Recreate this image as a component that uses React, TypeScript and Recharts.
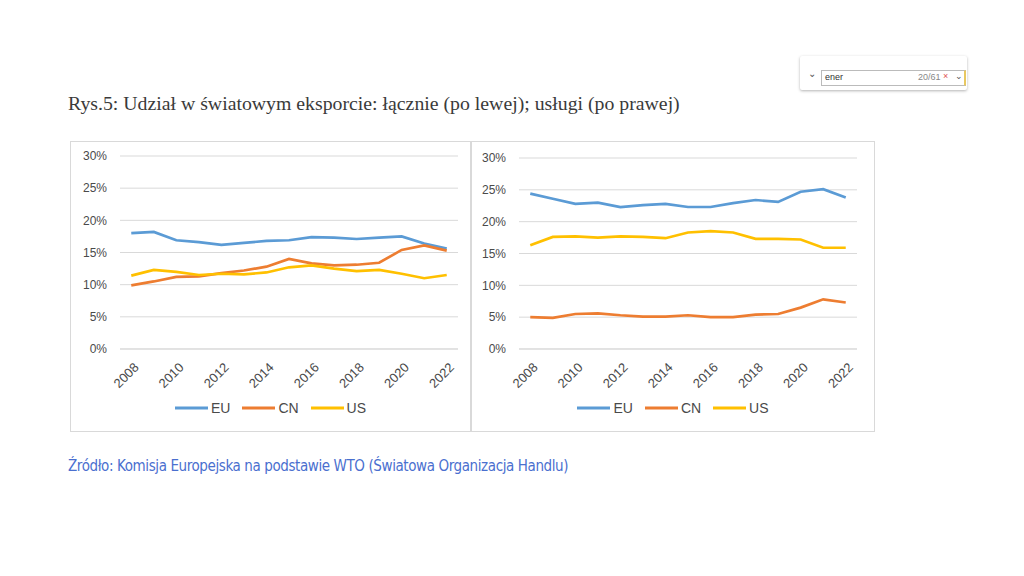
import React from "react";
import { LineChart, Line, XAxis, YAxis, CartesianGrid, Legend } from "recharts";

const years = [2008, 2009, 2010, 2011, 2012, 2013, 2014, 2015, 2016, 2017, 2018, 2019, 2020, 2021, 2022];
const xTicks = [2008, 2010, 2012, 2014, 2016, 2018, 2020, 2022];
const yTicks = [0, 5, 10, 15, 20, 25, 30];

// Left: total exports share (%)
const totalEU = [18.0, 18.2, 16.9, 16.6, 16.2, 16.5, 16.8, 16.9, 17.4, 17.3, 17.1, 17.3, 17.5, 16.4, 15.6];
const totalCN = [9.9, 10.5, 11.2, 11.3, 11.8, 12.2, 12.8, 14.0, 13.3, 13.0, 13.1, 13.4, 15.4, 16.1, 15.3];
const totalUS = [11.4, 12.3, 12.0, 11.5, 11.7, 11.6, 11.9, 12.7, 13.0, 12.5, 12.1, 12.3, 11.7, 11.0, 11.5];

// Right: services exports share (%)
const servEU = [24.4, 23.6, 22.8, 23.0, 22.3, 22.6, 22.8, 22.3, 22.3, 22.9, 23.4, 23.1, 24.7, 25.1, 23.8];
const servCN = [5.0, 4.9, 5.5, 5.6, 5.3, 5.1, 5.1, 5.3, 5.0, 5.0, 5.4, 5.5, 6.5, 7.8, 7.3];
const servUS = [16.3, 17.6, 17.7, 17.5, 17.7, 17.6, 17.4, 18.3, 18.5, 18.3, 17.3, 17.3, 17.2, 15.9, 15.9];

const seriesNames = ["EU", "CN", "US"];
const seriesColors = ["#5b9bd5", "#ed7d31", "#ffc000"];

const title = "Rys.5: Udział w światowym eksporcie: łącznie (po lewej); usługi (po prawej)";
const source = "Źródło: Komisja Europejska na podstawie WTO (Światowa Organizacja Handlu)";

const buildData = (eu: number[], cn: number[], us: number[]) =>
  years.map((y, i) => ({ year: y, EU: eu[i], CN: cn[i], US: us[i] }));

const leftData = buildData(totalEU, totalCN, totalUS);
const rightData = buildData(servEU, servCN, servUS);

const FONT = "'Liberation Sans', Arial, sans-serif";
const TICK_COLOR = "#4a4a4a";

const XTick = (props: any) => {
  const { x, y, payload } = props;
  return (
    <g transform={`translate(${x + 5},${y + 8})`}>
      <text
        transform="rotate(-45)"
        textAnchor="end"
        dy="0.35em"
        fontSize={13}
        fontFamily={FONT}
        fill={TICK_COLOR}
      >
        {payload.value}
      </text>
    </g>
  );
};

const LegendContent = () => (
  <div style={{ display: "flex", justifyContent: "center", alignItems: "center", fontFamily: FONT, fontSize: 14, color: TICK_COLOR }}>
    {seriesNames.map((n, i) => (
      <div key={n} style={{ display: "flex", alignItems: "center", marginRight: i < 2 ? 12 : 0 }}>
        <svg width={33} height={4} style={{ marginRight: 3 }}>
          <line x1={0} y1={2} x2={33} y2={2} stroke={seriesColors[i]} strokeWidth={3} />
        </svg>
        <span>{n}</span>
      </div>
    ))}
  </div>
);

const Panel = ({ data, width, height, margin, yWidth, legendTop }: any) => (
  <LineChart width={width} height={height} data={data} margin={margin}>
    <CartesianGrid vertical={false} stroke="#d9d9d9" />
    <XAxis
      dataKey="year"
      type="number"
      domain={[2007.5, 2022.5]}
      ticks={xTicks}
      interval={0}
      tick={<XTick />}
      tickLine={false}
      axisLine={{ stroke: "#d9d9d9" }}
      height={margin.bottomAxis}
    />
    <YAxis
      domain={[0, 30]}
      ticks={yTicks}
      tickFormatter={(v: number) => `${v}%`}
      tick={{ fontSize: 12, fill: TICK_COLOR, fontFamily: FONT }}
      tickLine={false}
      axisLine={false}
      tickSize={6}
      tickMargin={7}
      width={yWidth}
    />
    <Legend
      layout="horizontal"
      verticalAlign="middle"
      align="center"
      content={<LegendContent />}
      wrapperStyle={{ top: legendTop, left: 0, width: width }}
    />
    {seriesNames.map((n, i) => (
      <Line
        key={n}
        dataKey={n}
        stroke={seriesColors[i]}
        strokeWidth={2.7}
        dot={false}
        activeDot={false}
        isAnimationActive={false}
      />
    ))}
  </LineChart>
);

export default function App() {
  return (
    <div style={{ position: "absolute", left: 0, top: 0, width: 1024, height: 576, background: "#fff", overflow: "hidden" }}>
      {/* find bar artifact */}
      <div style={{ position: "absolute", left: 800, top: 56, width: 167, height: 34, background: "#fff", boxShadow: "0 1px 3px rgba(0,0,0,0.3)", borderRadius: 2 }}>
        <div style={{ position: "absolute", left: 8, top: 12, fontSize: 10, color: "#555", fontFamily: FONT }}>⌄</div>
        <div style={{ position: "absolute", left: 21, top: 14, width: 142, height: 14, border: "1px solid #bbb", borderRight: "2px solid #e8c860", fontFamily: FONT, fontSize: 9, color: "#333" }}>
          <span style={{ position: "absolute", left: 3, top: 1 }}>ener</span>
          <span style={{ position: "absolute", left: 96, top: 1, color: "#888" }}>20/61</span>
          <span style={{ position: "absolute", left: 121, top: 0, color: "#e05050" }}>×</span>
          <span style={{ position: "absolute", left: 133, top: 0, color: "#555" }}>⌄</span>
        </div>
      </div>

      <div style={{ position: "absolute", left: 68, top: 92, fontFamily: "'Liberation Serif', 'Times New Roman', serif", fontSize: 19.8, color: "#3a3a3a", whiteSpace: "nowrap" }}>
        {title}
      </div>

      <div style={{ position: "absolute", left: 70, top: 141, width: 401, height: 291, border: "1px solid #d9d9d9", boxSizing: "border-box" }}>
        <div style={{ position: "absolute", left: -1, top: -1 }}>
          <Panel
            data={leftData}
            width={401}
            height={291}
            margin={{ top: 15, right: 13, left: 10, bottom: 0, bottomAxis: 83 }}
            yWidth={40}
            legendTop={259}
          />
        </div>
      </div>

      <div style={{ position: "absolute", left: 471, top: 141, width: 404, height: 291, border: "1px solid #d9d9d9", boxSizing: "border-box" }}>
        <div style={{ position: "absolute", left: -1, top: -1 }}>
          <Panel
            data={rightData}
            width={404}
            height={291}
            margin={{ top: 17, right: 18, left: 10, bottom: 0, bottomAxis: 83 }}
            yWidth={38}
            legendTop={259}
          />
        </div>
      </div>

      <div style={{ position: "absolute", left: 68, top: 457, fontFamily: "'DejaVu Sans', sans-serif", fontStretch: "condensed", fontSize: 15, letterSpacing: -0.4, color: "#4a6fcf", whiteSpace: "nowrap" }}>
        {source}
      </div>
    </div>
  );
}
